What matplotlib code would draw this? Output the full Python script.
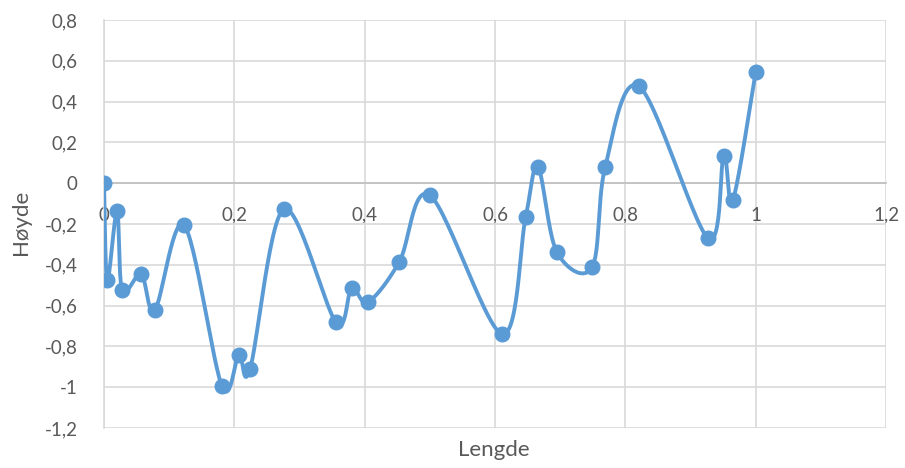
import numpy as np
import matplotlib.pyplot as plt
from matplotlib.ticker import FuncFormatter

plt.rcParams['font.family'] = ['Lato', 'DejaVu Sans']

lengde = [0.0, 0.005, 0.02, 0.028, 0.057, 0.078, 0.123, 0.181, 0.207, 0.224,
          0.276, 0.356, 0.380, 0.405, 0.453, 0.500, 0.611, 0.647, 0.666, 0.695,
          0.749, 0.769, 0.821, 0.927, 0.951, 0.965, 1.0]
hoyde = [0.0, -0.475, -0.137, -0.525, -0.446, -0.622, -0.206, -0.995, -0.843, -0.912,
         -0.127, -0.681, -0.515, -0.583, -0.387, -0.059, -0.740, -0.167, 0.078, -0.338,
         -0.412, 0.078, 0.475, -0.270, 0.132, -0.083, 0.544]
xticks = [0, 0.2, 0.4, 0.6, 0.8, 1.0, 1.2]
yticks = [-1.2, -1.0, -0.8, -0.6, -0.4, -0.2, 0, 0.2, 0.4, 0.6, 0.8]

blue = '#5B9BD5'
grid = '#D9D9D9'
txt = '#595959'


def smooth(x, y, sx=651.7, sy=204.0, n=30):
    # Catmull-Rom as bezier, done in pixel-like space like Excel does
    p = np.column_stack([np.array(x) * sx, np.array(y) * sy])
    p = np.vstack([p[0], p, p[-1]])
    out = []
    t = np.linspace(0, 1, n)[:, None]
    for i in range(1, len(p) - 2):
        p0, p1, p2, p3 = p[i - 1], p[i], p[i + 1], p[i + 2]
        c1 = p1 + (p2 - p0) / 6
        c2 = p2 - (p3 - p1) / 6
        seg = ((1 - t) ** 3) * p1 + 3 * ((1 - t) ** 2) * t * c1 + 3 * (1 - t) * t ** 2 * c2 + t ** 3 * p2
        out.append(seg)
    out = np.vstack(out)
    return out[:, 0] / sx, out[:, 1] / sy


def komma(v, pos):
    s = '%g' % round(v, 2)
    if s == '-0':
        s = '0'
    return s.replace('.', ',')


fig = plt.figure(figsize=(9.05, 4.68), dpi=100)
ax = fig.add_axes([104 / 905, 1 - 428 / 468, (886 - 104) / 905, (428 - 20) / 468])

sxv, syv = smooth(lengde, hoyde)
ax.plot(sxv, syv, color=blue, lw=2.8, zorder=3, solid_capstyle='round')
ax.plot(lengde, hoyde, 'o', color=blue, ms=10.5, zorder=4)

ax.set_xlim(0, 1.2)
ax.set_ylim(-1.2, 0.8)
ax.set_xticks(xticks)
ax.set_yticks(yticks)
ax.xaxis.set_major_formatter(FuncFormatter(komma))
ax.yaxis.set_major_formatter(FuncFormatter(komma))

ax.grid(True, color=grid, lw=1.2, zorder=0)
ax.set_axisbelow(True)
for s in ['top', 'right']:
    ax.spines[s].set_visible(False)
ax.spines['left'].set_color(grid)
ax.spines['left'].set_linewidth(1.2)
ax.spines['bottom'].set_position(('data', 0))
ax.spines['bottom'].set_color('#BFBFBF')
ax.spines['bottom'].set_linewidth(1.2)
ax.spines['bottom'].set_zorder(1)

ax.tick_params(axis='both', length=0, labelsize=13.5, labelcolor=txt)
ax.tick_params(axis='x', pad=17)
ax.tick_params(axis='y', pad=19)

fig.text(21 / 905, 1 - 222 / 468, 'Høyde', rotation=90, ha='center', va='center',
         fontsize=16, color=txt)
fig.text(494 / 905, 1 - 450 / 468, 'Lengde', ha='center', va='center',
         fontsize=16, color=txt)

fig.savefig('out.png', dpi=100)
